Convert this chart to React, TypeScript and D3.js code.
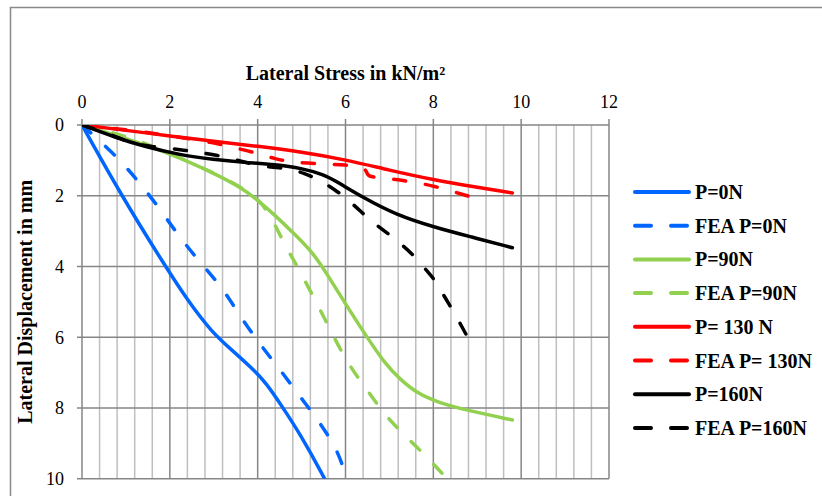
import * as d3 from 'd3';

// Lateral stress (kN/m²) vs lateral displacement (mm)
const xTicks = [0, 2, 4, 6, 8, 10, 12];
const yTicks = [0, 2, 4, 6, 8, 10];

const p0: [number, number][] = [
  [0, 0], [0.9, 2], [1.9, 4], [2.4, 4.95], [2.95, 5.85], [3.4, 6.35], [3.85, 6.85],
  [4.2, 7.3], [4.55, 7.95], [4.96, 8.72], [5.53, 10], [5.6, 10.2]
];
const fea0: [number, number][] = [
  [0, 0], [0.72, 0.8], [1.24, 1.52], [1.72, 2.28], [2.18, 3.1], [2.65, 3.83], [3.18, 4.57],
  [3.58, 5.37], [4.02, 6.15], [4.5, 6.9], [4.96, 7.67], [5.44, 8.45], [5.85, 9.26], [6.02, 10]
];
const p90: [number, number][] = [
  [0, 0], [1, 0.38], [2, 0.8], [3, 1.36], [3.6, 1.75], [4, 2.12], [4.43, 2.59], [4.85, 3.1],
  [5.25, 3.6], [5.57, 4.19], [6.04, 5.14], [6.48, 5.98], [6.9, 6.75], [7.25, 7.2], [7.65, 7.6],
  [8.1, 7.84], [8.8, 8.08], [9.8, 8.34]
];
const fea90: [number, number][] = [
  [0, 0], [1, 0.3], [2, 0.8], [3, 1.35], [3.7, 1.8], [4.1, 2.2], [4.35, 2.7], [4.6, 3.35],
  [4.95, 4.1], [5.35, 5.05], [5.7, 5.9], [6.05, 6.75], [6.5, 7.5], [6.95, 8.3], [7.5, 8.95],
  [8.1, 9.7], [8.3, 10]
];
const p130: [number, number][] = [
  [0, 0], [1, 0.15], [2, 0.31], [3, 0.46], [4, 0.6], [5, 0.76], [6, 0.98], [7, 1.28],
  [8, 1.55], [9, 1.76], [9.8, 1.92]
];
const fea130: [number, number][] = [
  [0, 0], [1, 0.13], [2, 0.3], [3, 0.5], [3.5, 0.65], [4, 0.8], [4.4, 0.96], [4.8, 1.06],
  [5.5, 1.1], [6, 1.13], [6.45, 1.18], [6.5, 1.42], [6.55, 1.46], [7, 1.52], [7.5, 1.6], [8, 1.72],
  [8.5, 1.9], [8.9, 2.05]
];
const p160: [number, number][] = [
  [0, 0], [0.8, 0.37], [1.4, 0.6], [2.2, 0.84], [3, 0.98], [3.7, 1.06], [4.4, 1.12],
  [5, 1.22], [5.5, 1.4], [5.8, 1.6], [6.4, 2.05], [7.15, 2.54], [8.05, 2.9], [8.85, 3.16],
  [9.8, 3.47]
];
const fea160: [number, number][] = [
  [0, 0], [0.75, 0.3], [1.05, 0.5], [1.6, 0.62], [2.3, 0.7], [2.6, 0.76], [3.1, 0.86],
  [3.5, 0.98], [3.9, 1.12], [4.3, 1.2], [4.7, 1.22], [5.05, 1.36], [5.4, 1.55], [5.75, 1.82],
  [6.05, 2.1], [6.35, 2.45], [6.65, 2.78], [6.95, 3.05], [7.3, 3.4], [7.55, 3.68], [7.8, 4.05],
  [8.05, 4.4], [8.25, 4.85], [8.45, 5.25], [8.65, 5.7], [8.78, 6.0]
];

const seriesNames = ['P=0N', 'FEA P=0N', 'P=90N', 'FEA P=90N', 'P= 130 N', 'FEA P= 130N', 'P=160N', 'FEA P=160N'];
const seriesData = [p0, fea0, p90, fea90, p130, fea130, p160, fea160];
const seriesColors = ['#0066ff', '#0066ff', '#92d050', '#92d050', '#ff0000', '#ff0000', '#000000', '#000000'];
const seriesDashed = [false, true, false, true, false, true, false, true];

export default function App() {
  const width = 822;
  const height = 496;
  const left = 82, right = 609, top = 125, bottom = 478.7;

  const x = d3.scaleLinear().domain([0, 12]).range([left, right]);
  const y = d3.scaleLinear().domain([0, 10]).range([top, bottom]);

  // smooth lines like Excel's "smoothed line" option
  const line = d3.line<[number, number]>()
    .x(d => x(d[0]))
    .y(d => y(d[1]))
    .curve(d3.curveBasis);

  const minorX = d3.range(0, 12.001, 0.4).filter(v => Math.abs(v / 2 - Math.round(v / 2)) > 0.01);
  const font = '"Liberation Serif", "Times New Roman", serif';

  return (
    <svg width={width} height={height} style={{ position: 'absolute', left: 0, top: 0, background: '#fff' }}>
      <rect x={10.5} y={7.5} width={830} height={520} fill="#fff" stroke="#898989" strokeWidth={1.5} />
      <defs>
        <clipPath id="plot">
          <rect x={left} y={top} width={right - left} height={bottom - top} />
        </clipPath>
      </defs>

      {/* grid */}
      {minorX.map(v => (
        <line key={'mx' + v} x1={x(v)} x2={x(v)} y1={top} y2={bottom} stroke="#bfbfbf" strokeWidth={1.5} />
      ))}
      {yTicks.map(v => (
        <line key={'gy' + v} x1={left - 5} x2={right} y1={y(v)} y2={y(v)} stroke="#868686" strokeWidth={1.5} />
      ))}
      {xTicks.map(v => (
        <line key={'gx' + v} x1={x(v)} x2={x(v)} y1={top - 6} y2={bottom} stroke="#868686" strokeWidth={1.5} />
      ))}

      {/* tick labels */}
      {xTicks.map(v => (
        <text key={'tx' + v} x={x(v)} y={108} textAnchor="middle" fontFamily={font} fontSize={18} fill="#000">{v}</text>
      ))}
      {yTicks.map(v => (
        <text key={'ty' + v} x={64} y={y(v)} dy="0.35em" textAnchor="end" fontFamily={font} fontSize={18} fill="#000">{v}</text>
      ))}

      {/* axis titles */}
      <text x={(left + right) / 2} y={80} textAnchor="middle" fontFamily={font} fontSize={20} fontWeight="bold">
        Lateral Stress in kN/m²
      </text>
      <text transform={`translate(32, ${(top + bottom) / 2}) rotate(-90)`} textAnchor="middle" fontFamily={font} fontSize={20} fontWeight="bold">
        Lateral Displacement in mm
      </text>

      {/* series */}
      <g clipPath="url(#plot)">
        {seriesData.map((d, i) => (
          <path key={'s' + i} d={line(d) || ''} fill="none" stroke={seriesColors[i]} strokeWidth={3.5}
            strokeLinecap="round" strokeLinejoin="round"
            strokeDasharray={seriesDashed[i] ? '12 20' : undefined} />
        ))}
      </g>

      {/* legend */}
      {seriesNames.map((name, i) => {
        const ly = 192 + i * 33.7;
        return (
          <g key={'l' + i}>
            <line x1={635} x2={689} y1={ly} y2={ly} stroke={seriesColors[i]} strokeWidth={4}
              strokeLinecap="round" strokeDasharray={seriesDashed[i] ? '16 20' : undefined} />
            <text x={695} y={ly} dy="0.35em" fontFamily={font} fontSize={20} fontWeight="bold">{name}</text>
          </g>
        );
      })}
    </svg>
  );
}
